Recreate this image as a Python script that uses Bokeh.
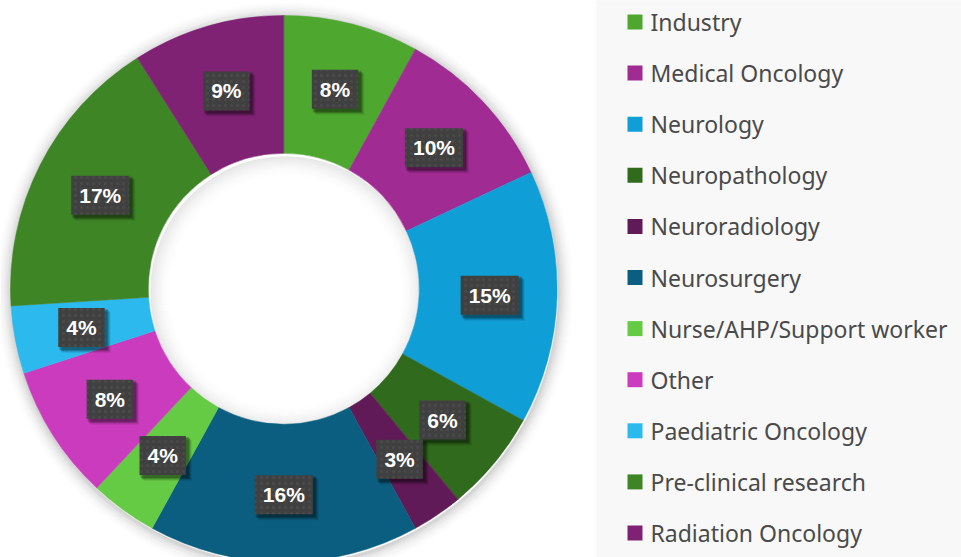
import numpy as np
from bokeh.plotting import figure
from bokeh.models import Range1d, ColumnDataSource
from bokeh.core.properties import value
from bokeh.embed import file_html
from bokeh.resources import INLINE

# ---- data ----
categories = ["Industry", "Medical Oncology", "Neurology", "Neuropathology",
              "Neuroradiology", "Neurosurgery", "Nurse/AHP/Support worker",
              "Other", "Paediatric Oncology", "Pre-clinical research",
              "Radiation Oncology"]
shares = [8, 10, 15, 6, 3, 16, 4, 8, 4, 17, 9]
colors = ["#4ea72e", "#a02b93", "#0f9ed5", "#306a1d", "#601a57", "#0b5e7f",
          "#65cb45", "#cb3bbd", "#2cb9ee", "#3e8526", "#7f2273"]

# ---- geometry (pixel-based data space) ----
W, H = 961, 557
cx, cy = 283.3, H - 288.3
r_out, r_in = 273.3, 135.5
r_lab = 206

p = figure(width=W, height=H, output_backend="svg", toolbar_location=None,
           x_range=Range1d(0, W), y_range=Range1d(0, H),
           min_border=0, outline_line_color=None, background_fill_color="white",
           border_fill_color="white")
p.axis.visible = False
p.grid.visible = False

# legend panel background
p.quad(left=[596], right=[1000], bottom=[-20], top=[600], fill_color="#f8f8f8", line_color=None)
for i in range(6):
    p.quad(left=[596 - i - 1], right=[596 - i], bottom=[-20], top=[600],
           fill_color="black", fill_alpha=0.012 * (6 - i) / 6, line_color=None)

# outer soft shadow
n_sh = 18
for i in range(n_sh):
    a = 0.13 * (1 - i / n_sh) ** 2
    p.annulus(x=[cx + 1], y=[cy - 2], inner_radius=r_out + i - 0.5, outer_radius=r_out + i + 1,
              fill_color="black", fill_alpha=a, line_color=None)

total = float(sum(shares))
frac = np.array(shares) / total
cum_end = np.cumsum(frac)
cum_start = cum_end - frac
start_ang = np.pi / 2 - cum_start * 2 * np.pi
end_ang = np.pi / 2 - cum_end * 2 * np.pi
mid = np.pi / 2 - (cum_start + frac / 2) * 2 * np.pi

src = ColumnDataSource(dict(cat=categories, start=start_ang, end=end_ang, color=colors))

# inner hole shading
n_in = 24
for i in range(n_in):
    a = 0.10 * (1 - i / n_in) ** 2
    p.annulus(x=[cx + 2], y=[cy - 3], inner_radius=max(r_in - i - 1, 0), outer_radius=r_in - i,
              fill_color="black", fill_alpha=a, line_color=None)

p.annular_wedge(x=cx, y=cy, inner_radius=r_in, outer_radius=r_out,
                start_angle="start", end_angle="end", direction="clock",
                fill_color="color", line_color="color", line_width=0.5, source=src)

# ---- data labels ----
labels = [f"{int(round(s / total * 100))}%" for s in shares]
char_w = {"%": 18.7}
box_w = [16 + sum(char_w.get(c, 11.7) for c in t) for t in labels]
lx = cx + r_lab * np.cos(mid)
ly = cy + r_lab * np.sin(mid)
lab_src = ColumnDataSource(dict(x=lx, y=ly, t=labels, w=box_w))
for (dx, dy, al) in [(5, -5, 0.08), (4, -4, 0.12), (3, -3, 0.18), (2, -2, 0.2)]:
    p.rect(x=lx + dx, y=ly + dy, width=np.array(box_w) + 2, height=41, fill_color="black",
           fill_alpha=al, line_color=None)
p.rect(x="x", y="y", width="w", height=39, fill_color="#404040", line_color=None,
       hatch_pattern="dot", hatch_color="#505050", hatch_alpha=0.6, hatch_scale=6,
       hatch_weight=0.7, source=lab_src)
p.text(x="x", y="y", text="t", text_align="center", text_baseline="middle",
       text_color="white", text_font=value("Liberation Sans"), text_font_style="bold",
       text_font_size="21px", source=lab_src)

# ---- legend ----
row_y = [H - (21.5 + 51.1 * i) for i in range(len(categories))]
leg_src = ColumnDataSource(dict(y=row_y, cat=categories, color=colors))
p.rect(x=634.5, y="y", width=15, height=15, fill_color="color", line_color=None, source=leg_src)
p.text(x=650, y="y", text="cat", text_align="left", text_baseline="middle",
       text_color="#4a4a4a", text_font=value("Noto Sans"), text_font_size="23px",
       source=leg_src)

open("out.html", "w").write(file_html(p, INLINE))
